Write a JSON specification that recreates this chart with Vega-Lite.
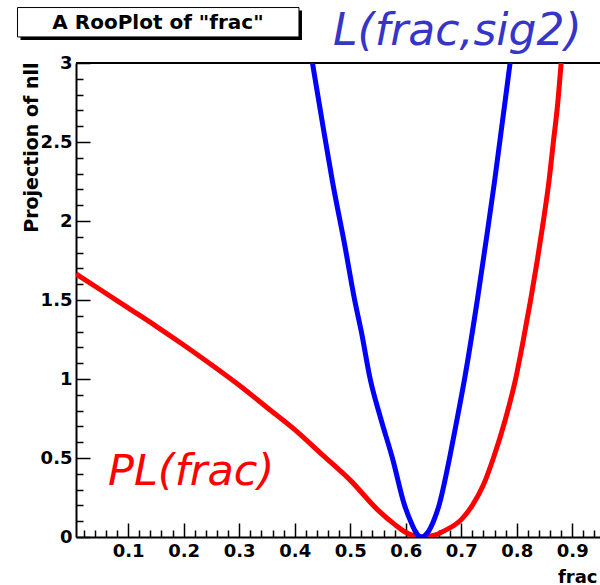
{
  "$schema": "https://vega.github.io/schema/vega-lite/v6.json",
  "width": 524,
  "height": 474,
  "autosize": {"type": "none"},
  "padding": {"left": 76, "top": 63, "right": 0, "bottom": 48},
  "background": "white",
  "config": {"view": {"stroke": null}, "font": "DejaVu Sans"},
  "data": {"values": [
    {"curve": "PL", "frac": 0.006, "nll": 1.665},
    {"curve": "PL", "frac": 0.05, "nll": 1.565},
    {"curve": "PL", "frac": 0.1, "nll": 1.45},
    {"curve": "PL", "frac": 0.15, "nll": 1.335},
    {"curve": "PL", "frac": 0.2, "nll": 1.215},
    {"curve": "PL", "frac": 0.25, "nll": 1.09},
    {"curve": "PL", "frac": 0.3, "nll": 0.96},
    {"curve": "PL", "frac": 0.35, "nll": 0.82},
    {"curve": "PL", "frac": 0.4, "nll": 0.68},
    {"curve": "PL", "frac": 0.45, "nll": 0.52},
    {"curve": "PL", "frac": 0.5, "nll": 0.36},
    {"curve": "PL", "frac": 0.55, "nll": 0.17},
    {"curve": "PL", "frac": 0.58, "nll": 0.08},
    {"curve": "PL", "frac": 0.6, "nll": 0.03},
    {"curve": "PL", "frac": 0.625, "nll": 0.0},
    {"curve": "PL", "frac": 0.65, "nll": 0.01},
    {"curve": "PL", "frac": 0.67, "nll": 0.04},
    {"curve": "PL", "frac": 0.7, "nll": 0.11},
    {"curve": "PL", "frac": 0.72, "nll": 0.2},
    {"curve": "PL", "frac": 0.74, "nll": 0.33},
    {"curve": "PL", "frac": 0.758, "nll": 0.5},
    {"curve": "PL", "frac": 0.78, "nll": 0.75},
    {"curve": "PL", "frac": 0.798, "nll": 1.0},
    {"curve": "PL", "frac": 0.812, "nll": 1.25},
    {"curve": "PL", "frac": 0.825, "nll": 1.5},
    {"curve": "PL", "frac": 0.837, "nll": 1.75},
    {"curve": "PL", "frac": 0.848, "nll": 2.0},
    {"curve": "PL", "frac": 0.858, "nll": 2.25},
    {"curve": "PL", "frac": 0.866, "nll": 2.5},
    {"curve": "PL", "frac": 0.874, "nll": 2.75},
    {"curve": "PL", "frac": 0.88, "nll": 3.0},
    {"curve": "PL", "frac": 0.885, "nll": 3.2},
    {"curve": "L", "frac": 0.425, "nll": 3.15},
    {"curve": "L", "frac": 0.432, "nll": 3.0},
    {"curve": "L", "frac": 0.45, "nll": 2.62},
    {"curve": "L", "frac": 0.468, "nll": 2.25},
    {"curve": "L", "frac": 0.49, "nll": 1.85},
    {"curve": "L", "frac": 0.508, "nll": 1.5},
    {"curve": "L", "frac": 0.52, "nll": 1.3},
    {"curve": "L", "frac": 0.536, "nll": 1.0},
    {"curve": "L", "frac": 0.555, "nll": 0.75},
    {"curve": "L", "frac": 0.576, "nll": 0.5},
    {"curve": "L", "frac": 0.598, "nll": 0.2},
    {"curve": "L", "frac": 0.61, "nll": 0.09},
    {"curve": "L", "frac": 0.62, "nll": 0.02},
    {"curve": "L", "frac": 0.628, "nll": 0.0},
    {"curve": "L", "frac": 0.64, "nll": 0.03},
    {"curve": "L", "frac": 0.65, "nll": 0.1},
    {"curve": "L", "frac": 0.66, "nll": 0.2},
    {"curve": "L", "frac": 0.679, "nll": 0.5},
    {"curve": "L", "frac": 0.69, "nll": 0.7},
    {"curve": "L", "frac": 0.706, "nll": 1.0},
    {"curve": "L", "frac": 0.729, "nll": 1.5},
    {"curve": "L", "frac": 0.745, "nll": 1.88},
    {"curve": "L", "frac": 0.76, "nll": 2.25},
    {"curve": "L", "frac": 0.775, "nll": 2.65},
    {"curve": "L", "frac": 0.788, "nll": 3.0},
    {"curve": "L", "frac": 0.795, "nll": 3.2}
  ]},
  "layer": [
    {
      "data": {"values": [{}]},
      "mark": {"type": "rule", "color": "black", "strokeWidth": 2},
      "encoding": {
        "y": {"datum": 3, "type": "quantitative", "scale": {"domain": [0, 3], "nice": false, "zero": false}}
      }
    },
    {
      "transform": [{"filter": "datum.curve == 'PL'"}],
      "mark": {"type": "line", "color": "#ff0000", "strokeWidth": 5, "interpolate": "monotone", "clip": true},
      "encoding": {
        "x": {
          "field": "frac", "type": "quantitative",
          "scale": {"domain": [0.006, 0.95], "nice": false, "zero": false},
          "axis": {
            "title": "frac",
            "titleFont": "DejaVu Sans", "titleFontWeight": "bold", "titleFontSize": 18, "titleColor": "black",
            "titleAnchor": "end", "titleAlign": "right", "titleBaseline": "alphabetic", "titleX": 521, "titleY": 45,
            "tickCount": 500,
            "values": [0.02, 0.04, 0.06, 0.08, 0.1, 0.12, 0.14, 0.16, 0.18, 0.2, 0.22, 0.24, 0.26, 0.28, 0.3, 0.32, 0.34, 0.36, 0.38, 0.4, 0.42, 0.44, 0.46, 0.48, 0.5, 0.52, 0.54, 0.56, 0.58, 0.6, 0.62, 0.64, 0.66, 0.68, 0.7, 0.72, 0.74, 0.76, 0.78, 0.8, 0.82, 0.84, 0.86, 0.88, 0.9, 0.92, 0.94],
            "labelExpr": "abs(datum.value*10 - round(datum.value*10)) < 0.001 ? format(datum.value, '.1f') : ''",
            "labelFont": "DejaVu Sans", "labelFontWeight": "bold", "labelFontSize": 18, "labelColor": "black",
            "labelBaseline": "alphabetic", "labelPadding": 33, "labelOverlap": false, "labelFlush": false, "labelBound": false,
            "tickSize": {"condition": {"test": "abs(datum.value*10 - round(datum.value*10)) < 0.001", "value": -14}, "value": -7},
            "tickColor": "black", "tickWidth": 1.5,
            "domainColor": "black", "domainWidth": 2, "grid": false
          }
        },
        "y": {
          "field": "nll", "type": "quantitative",
          "scale": {"domain": [0, 3], "nice": false, "zero": false},
          "axis": {
            "title": "Projection of nll",
            "titleFont": "DejaVu Sans", "titleFontWeight": "bold", "titleFontSize": 19, "titleColor": "black",
            "titleAngle": 270, "titleAlign": "right", "titleBaseline": "alphabetic", "titleX": -39, "titleY": -1,
            "tickCount": 500,
            "values": [0, 0.1, 0.2, 0.3, 0.4, 0.5, 0.6, 0.7, 0.8, 0.9, 1.0, 1.1, 1.2, 1.3, 1.4, 1.5, 1.6, 1.7, 1.8, 1.9, 2.0, 2.1, 2.2, 2.3, 2.4, 2.5, 2.6, 2.7, 2.8, 2.9, 3.0],
            "labelExpr": "abs(datum.value*2 - round(datum.value*2)) < 0.001 ? format(datum.value, '.2~f') : ''",
            "labelFont": "DejaVu Sans", "labelFontWeight": "bold", "labelFontSize": 18, "labelColor": "black",
            "labelPadding": 18, "labelOverlap": false, "labelFlush": false, "labelBound": false,
            "tickSize": {"condition": {"test": "abs(datum.value*2 - round(datum.value*2)) < 0.001", "value": -14}, "value": -7},
            "tickColor": "black", "tickWidth": 1.5,
            "domainColor": "black", "domainWidth": 2, "grid": false
          }
        }
      }
    },
    {
      "transform": [{"filter": "datum.curve == 'L'"}],
      "mark": {"type": "line", "color": "#0000ff", "strokeWidth": 5, "interpolate": "monotone", "clip": true},
      "encoding": {
        "x": {"field": "frac", "type": "quantitative", "scale": {"domain": [0.006, 0.95], "nice": false, "zero": false}},
        "y": {"field": "nll", "type": "quantitative", "scale": {"domain": [0, 3], "nice": false, "zero": false}}
      }
    },
    {
      "data": {"values": [{}]},
      "mark": {"type": "rect", "color": "black", "xOffset": 3, "x2Offset": 3, "yOffset": 3, "y2Offset": 3},
      "encoding": {
        "x": {"datum": -0.0994, "type": "quantitative"},
        "x2": {"datum": 0.4077},
        "y": {"datum": 3.351, "type": "quantitative"},
        "y2": {"datum": 3.165}
      }
    },
    {
      "data": {"values": [{}]},
      "mark": {"type": "rect", "fill": "white", "stroke": "black", "strokeWidth": 1},
      "encoding": {
        "x": {"datum": -0.0994, "type": "quantitative"},
        "x2": {"datum": 0.4077},
        "y": {"datum": 3.351, "type": "quantitative"},
        "y2": {"datum": 3.165}
      }
    },
    {
      "data": {"values": [{}]},
      "mark": {"type": "text", "text": "A RooPlot of \"frac\"", "font": "DejaVu Sans", "fontWeight": "bold", "fontSize": 20, "color": "black", "align": "center", "baseline": "middle"},
      "encoding": {
        "x": {"datum": 0.1537, "type": "quantitative"},
        "y": {"datum": 3.253, "type": "quantitative"}
      }
    },
    {
      "data": {"values": [{}]},
      "mark": {"type": "text", "text": "PL(frac)", "font": "DejaVu Sans", "fontStyle": "italic", "fontSize": 43, "color": "#ff0000", "align": "left", "baseline": "alphabetic"},
      "encoding": {
        "x": {"datum": 0.0636, "type": "quantitative"},
        "y": {"datum": 0.329, "type": "quantitative"}
      }
    },
    {
      "data": {"values": [{}]},
      "mark": {"type": "text", "text": "L(frac,sig2)", "font": "DejaVu Sans", "fontStyle": "italic", "fontSize": 44, "color": "#3535c8", "align": "left", "baseline": "alphabetic"},
      "encoding": {
        "x": {"datum": 0.469, "type": "quantitative"},
        "y": {"datum": 3.114, "type": "quantitative"}
      }
    }
  ]
}
